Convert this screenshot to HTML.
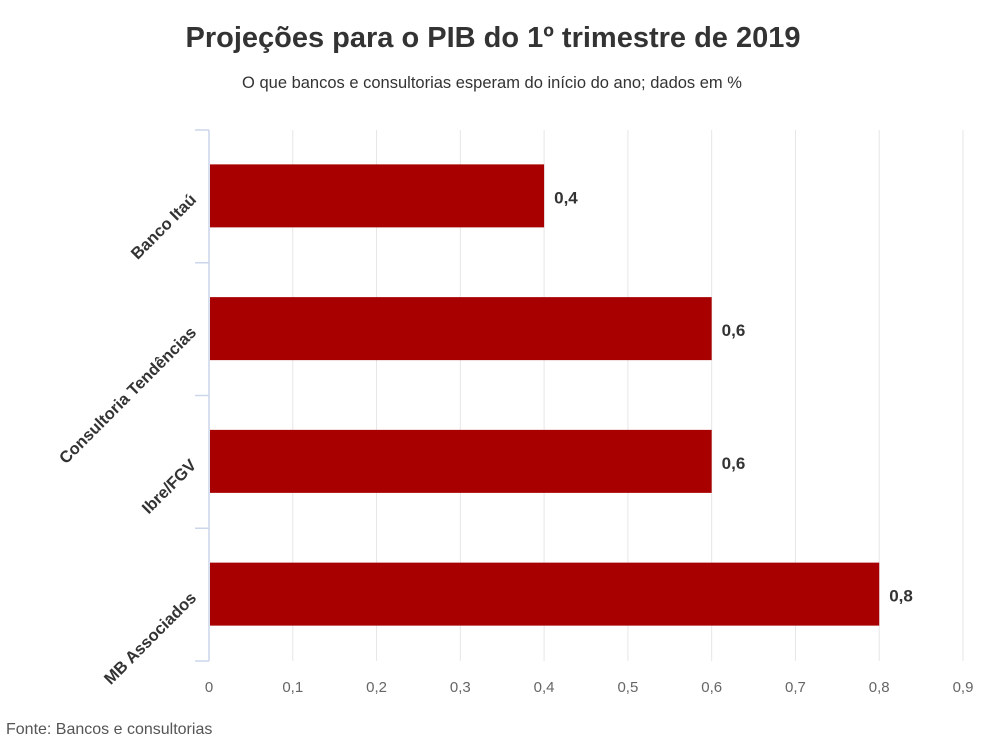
<!DOCTYPE html>
<html><head><meta charset="utf-8"><style>
body{margin:0;background:#fff;font-family:"Liberation Sans","DejaVu Sans",sans-serif;}
#wrap{position:relative;width:990px;height:750px;overflow:hidden;}
</style></head><body>
<div id="wrap">
<svg id="chart" width="990" height="750"></svg>
</div>
<script>
const categories = ["Banco Itaú","Consultoria Tendências","Ibre/FGV","MB Associados"];
const values = [0.4,0.6,0.6,0.8];
const valueLabels = ["0,4","0,6","0,6","0,8"];
const ticks = [0,0.1,0.2,0.3,0.4,0.5,0.6,0.7,0.8,0.9];
const tickLabels = ["0","0,1","0,2","0,3","0,4","0,5","0,6","0,7","0,8","0,9"];

const NS="http://www.w3.org/2000/svg";
const svg=document.getElementById('chart');
const X0=209, XW=(963-209)/0.9, Y0=130, Y1=661;
const band=(Y1-Y0)/categories.length;
const x=v=>X0+v*XW;
const yc=i=>Y0+band*(i+0.5);
function mk(tag,attrs,parent){const e=document.createElementNS(NS,tag);for(const k in attrs)e.setAttribute(k,attrs[k]);(parent||svg).appendChild(e);return e;}

let t=mk('text',{x:493,y:47,'text-anchor':'middle','font-size':29,'font-weight':'bold',fill:'#333'});


t.textContent='Projeções para o PIB do 1º trimestre de 2019';
t=mk('text',{x:492,y:88,'text-anchor':'middle','font-size':16.5,fill:'#333'});


t.textContent='O que bancos e consultorias esperam do início do ano; dados em %';
t=mk('text',{x:6,y:734,'font-size':16,fill:'#555'});


t.textContent='Fonte: Bancos e consultorias';

ticks.forEach((v,i)=>{
  if(i>0){const g=mk('line',{x1:x(v),x2:x(v),y1:Y0,y2:Y1,stroke:'#e6e6e6','stroke-width':1});
  
  }
  const l=mk('text',{x:x(v),y:692,'text-anchor':'middle','font-size':15,fill:'#666'});
  
  
  l.textContent=tickLabels[i];
});
const ax=mk('line',{x1:X0,x2:X0,y1:Y0,y2:Y1,stroke:'#ccd6eb','stroke-width':1.5});


for(let i=0;i<=categories.length;i++){
  const tk=mk('line',{x1:195,x2:X0,y1:Y0+band*i,y2:Y0+band*i,stroke:'#ccd6eb','stroke-width':1.5});
  
  
}
categories.forEach((c,i)=>{
  const cy=yc(i);
  const b=mk('rect',{x:X0+1,y:cy-32,width:x(values[i])-X0-1,height:63,fill:'#a80000'});
  
  
  const v=mk('text',{x:x(values[i])+10,y:cy+7,'font-size':17,'font-weight':'bold',fill:'#333'});
  
  
  v.textContent=valueLabels[i];
  const l=mk('text',{x:193,y:cy+6,'text-anchor':'end','font-size':16.5,'font-weight':'bold',fill:'#333',transform:`rotate(-45 193 ${cy})`});
  
  
  l.textContent=c;
});
</script>
</body></html>
